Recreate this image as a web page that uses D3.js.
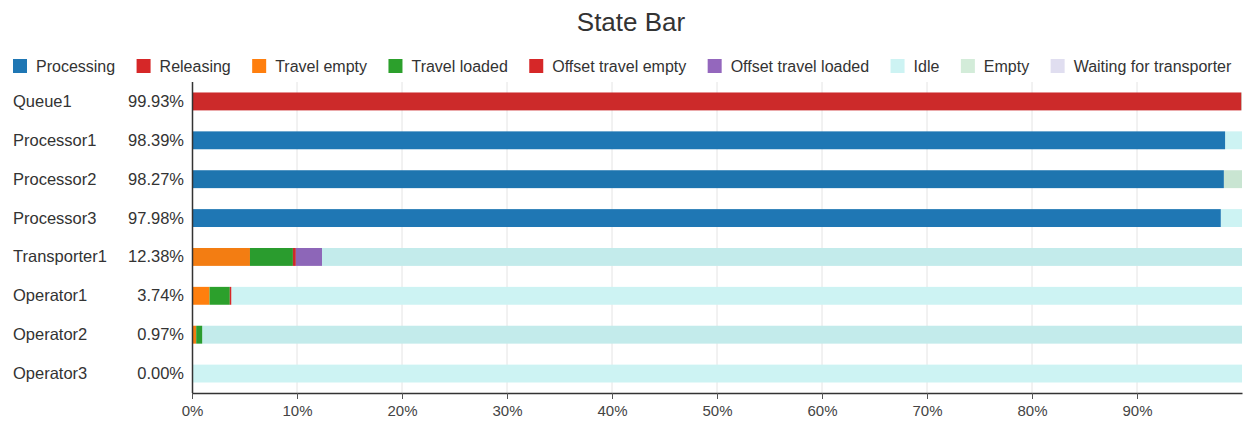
<!DOCTYPE html>
<html><head><meta charset="utf-8">
<script src="https://cdn.jsdelivr.net/npm/d3@7"></script>
<style>body{margin:0;background:#fff;} svg{display:block;font-family:"Liberation Sans",Arial,sans-serif;}</style>
</head><body><svg id="c" width="1243" height="425"></svg>
<script>
const categories = ["Queue1","Processor1","Processor2","Processor3","Transporter1","Operator1","Operator2","Operator3"];
const stateNames = ["Processing","Releasing","Travel empty","Travel loaded","Offset travel empty","Offset travel loaded","Idle","Empty","Waiting for transporter"];
const stateColors = ["#1f77b4","#d62728","#ff7f0e","#2ca02c","#d62728","#9467bd","#cdf3f3","#d3ecd9","#e0def0"];
// values per state, in category order (%)
const processing        = [0, 98.39, 98.27, 97.98, 0, 0, 0, 0];
const releasing         = [99.93, 0, 0, 0, 0, 0, 0, 0];
const travelEmpty       = [0, 0, 0, 0, 5.52, 1.67, 0.40, 0];
const travelLoaded      = [0, 0, 0, 0, 4.09, 1.93, 0.57, 0];
const offsetTravelEmpty = [0, 0, 0, 0, 0.28, 0.14, 0, 0];
const offsetTravelLoaded= [0, 0, 0, 0, 2.49, 0, 0, 0];
const idle              = [0, 1.61, 0, 2.02, 87.62, 96.26, 99.03, 100];
const empty             = [0.07, 0, 1.73, 0, 0, 0, 0, 0];
const waiting           = [0, 0, 0, 0, 0, 0, 0, 0];
const utilLabels = ["99.93%","98.39%","98.27%","97.98%","12.38%","3.74%","0.97%","0.00%"];
const xTicks = [0,10,20,30,40,50,60,70,80,90];

const series = [processing,releasing,travelEmpty,travelLoaded,offsetTravelEmpty,offsetTravelLoaded,idle,empty,waiting];
const table = categories.map((c,i)=>{const o={cat:c}; stateNames.forEach((s,j)=>o[s]=series[j][i]); return o;});

const svg = d3.select("#c");
const x = d3.scaleLinear().domain([0,100]).range([192,1242]);
const y = d3.scaleBand().domain(categories).range([82,393]).paddingInner(0.54).paddingOuter(0.27);
const color = d3.scaleOrdinal().domain(stateNames).range(stateColors);

// title
svg.append("text").attr("x",631).attr("y",31).attr("text-anchor","middle")
  .attr("font-size",26).attr("fill","#333").text("State Bar");

// legend
const lg = svg.append("g");
const items = lg.selectAll("g").data(stateNames).join("g");
items.append("rect").attr("width",14).attr("height",14).attr("y",59).attr("fill",d=>color(d));
items.append("text").attr("x",23).attr("y",71.5).attr("font-size",16).attr("fill","#333").text(d=>d);
let widths=[]; items.each(function(){widths.push(this.getBBox().width);});
const total = d3.sum(widths), left=13, right=1232;
const gap = (right-left-total)/(stateNames.length-1);
let cx=left; items.attr("transform",(d,i)=>{const t=`translate(${cx},0)`; cx+=widths[i]+gap; return t;});

// grid
svg.append("g").selectAll("line").data(xTicks.slice(1)).join("line")
  .attr("x1",d=>x(d)).attr("x2",d=>x(d)).attr("y1",82).attr("y2",393)
  .attr("stroke","#e4e4e4").attr("stroke-width",1);

// stacked bars
const stack = d3.stack().keys(stateNames)(table);
const lightKeys = new Set(["Idle","Empty","Waiting for transporter"]);
const layers = svg.append("g").selectAll("g").data(stack).join("g").attr("fill",d=>color(d.key));
layers.selectAll("rect").data(d=>d.map(v=>Object.assign(v,{key:d.key}))).join("rect")
  .attr("x",d=>x(d[0])).attr("width",d=>Math.max(0,x(d[1])-x(d[0])))
  .attr("y",d=>y(d.data.cat)).attr("height",y.bandwidth());
// row striping on alternate rows (remainder tone)
svg.append("g").selectAll("rect").data(categories.filter((c,i)=>i%2===0)).join("rect")
  .attr("x",x(0)).attr("width",x(100)-x(0)).attr("y",d=>y(d)).attr("height",y.bandwidth())
  .attr("fill","#1a6b6b").attr("fill-opacity",0.05).attr("pointer-events","none");
layers.filter(d=>!lightKeys.has(d.key)).raise();

// axes
const yAxisG = svg.append("g");
yAxisG.append("line").attr("x1",192.5).attr("x2",192.5).attr("y1",82).attr("y2",393).attr("stroke","#333").attr("stroke-width",1.5);
svg.append("g").selectAll("text.cat").data(categories).join("text")
  .attr("x",13).attr("y",d=>y(d)+y.bandwidth()/2+5.5).attr("font-size",16.5).attr("fill","#333").text(d=>d);
svg.append("g").selectAll("text.pct").data(utilLabels).join("text")
  .attr("x",184).attr("text-anchor","end").attr("y",(d,i)=>y(categories[i])+y.bandwidth()/2+5.5)
  .attr("font-size",16.5).attr("fill","#333").text(d=>d);

const xAxis = svg.append("g").attr("transform","translate(0,393)")
  .call(d3.axisBottom(x).tickValues(xTicks).tickFormat(d=>d+"%").tickSize(6).tickSizeOuter(0));
xAxis.select(".domain").attr("stroke","#333").attr("stroke-width",1.5);
xAxis.selectAll(".tick line").attr("stroke","#555");
xAxis.selectAll("text").attr("font-size",15).attr("fill","#444").attr("dy","0.9em")
  .attr("font-family","Liberation Sans, Arial, sans-serif");
</script></body></html>
